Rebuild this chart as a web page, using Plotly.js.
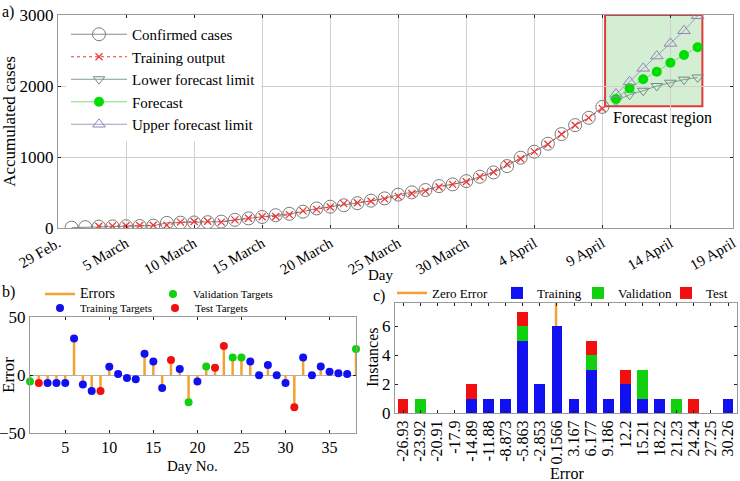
<!DOCTYPE html>
<html><head><meta charset="utf-8">
<script src="https://cdn.plot.ly/plotly-3.0.1.min.js"></script>
<style>html,body{margin:0;padding:0;background:#fff}#chart{width:740px;height:481px}</style>
</head><body><div id="chart"></div>
<script>
// ---------- panel a ----------
const dayTickValues = [0, 5, 10, 15, 20, 25, 30, 35, 40, 45, 49.6];
const dayTickLabels = ['29 Feb.', '5 March', '10 March', '15 March', '20 March', '25 March', '30 March', '4 April', '9 April', '14 April', '19 April'];
const confirmedDays = [1,2,3,4,5,6,7,8,9,10,11,12,13,14,15,16,17,18,19,20,21,22,23,24,25,26,27,28,29,30,31,32,33,34,35,36,37,38,39,40];
const confirmedCases = [5, 12, 20, 23, 25, 28, 33, 72, 75, 78, 82, 90, 115, 135, 155, 180, 200, 230, 275, 300, 320, 350, 385, 417, 470, 502, 535, 590, 614, 660, 722, 783, 872, 990, 1075, 1187, 1323, 1449, 1552, 1705];
const trainingDays = [3,4,5,6,7,8,9,10,11,12,13,14,15,16,17,18,19,20,21,22,23,24,25,26,27,28,29,30,31,32,33,34,35,36,37,38,39,40];
const trainingOutput = [25.7, 29.9, 31.9, 34.9, 39.9, 40.6, 83.2, 91.7, 95.7, 82.9, 114.1, 137.6, 158.7, 161.7, 188.3, 241.1, 262.1, 294.9, 343.4, 355.7, 377.6, 410.7, 445.1, 486.9, 519.9, 578.3, 614.3, 651.4, 722.3, 789.9, 899.7, 974.9, 1075.3, 1179.6, 1320.1, 1447.5, 1551.1, 1682.5];
const forecastDays = [41, 42, 43, 44, 45, 46, 47];
const forecastValues = [1816, 1967, 2094, 2201, 2328, 2436, 2545];
const lowerLimit = [1790, 1878, 1933, 2000, 2046, 2090, 2120];
const upperLimit = [1887, 2060, 2249, 2422, 2600, 2778, 2989];

// ---------- panel b ----------
const errorDays = [1,2,3,4,5,6,7,8,9,10,11,12,13,14,15,16,17,18,19,20,21,22,23,24,25,26,27,28,29,30,31,32,33,34,35,36,37,38];
const errorValues = [-5.7, -6.9, -6.9, -6.9, -6.9, 31.4, -8.2, -13.7, -13.7, 7.1, 0.9, -2.6, -3.7, 18.3, 11.7, -11.1, 12.9, 5.1, -23.4, -5.7, 7.4, 6.3, 24.9, 15.1, 15.1, 11.7, -0.3, 8.6, -0.3, -6.9, -27.7, 15.1, -0.3, 7.4, 2.9, 1.5, 0.9, 22.5];
const errorSet = ['val','test','train','train','train','train','train','train','test','train','train','train','train','train','train','train','test','train','val','train','val','test','test','val','val','train','train','train','train','train','test','train','train','train','train','train','train','val'];

// ---------- panel c ----------
const binLabels = ['-26.93','-23.92','-20.91','-17.9','-14.89','-11.88','-8.873','-5.863','-2.853','0.1566','3.167','6.177','9.186','12.2','15.21','18.22','21.23','24.24','27.25','30.26'];
const histTraining   = [0,0,0,0,1,1,1,5,2,6,1,3,1,2,1,1,0,0,0,1];
const histValidation = [0,1,0,0,0,0,0,1,0,0,0,1,0,0,2,0,1,0,0,0];
const histTest       = [1,0,0,0,1,0,0,1,0,0,0,1,0,1,0,0,0,1,0,0];
const zeroError = 0;

const serif = 'Liberation Serif, Times New Roman, serif';
const ORANGE = '#f2a133';
const BLUE = '#1010f0', GREEN = '#10d010', RED = '#f01010';

const traces = [];
// a
traces.push({type:'scatter', mode:'lines+markers', name:'Confirmed cases', x:confirmedDays, y:confirmedCases,
  xaxis:'x', yaxis:'y', legend:'legend', line:{color:'#8a8a8a', width:1},
  marker:{symbol:'circle-open', size:13, color:'#7a7a7a', line:{width:1}}});
traces.push({type:'scatter', mode:'lines+markers', name:'Training output', x:trainingDays, y:trainingOutput,
  xaxis:'x', yaxis:'y', legend:'legend', line:{color:'#e83a3a', width:1, dash:'dot'},
  marker:{symbol:'x-thin-open', size:7, color:'#e83a3a', line:{width:1.3, color:'#e83a3a'}}});
traces.push({type:'scatter', mode:'lines+markers', name:'Lower forecast limit', x:forecastDays, y:lowerLimit,
  xaxis:'x', yaxis:'y', legend:'legend', line:{color:'#7f9f8f', width:1},
  marker:{symbol:'triangle-down-open', size:10, color:'#6f8f7f', line:{width:1}}});
traces.push({type:'scatter', mode:'lines+markers', name:'Forecast', x:forecastDays, y:forecastValues,
  xaxis:'x', yaxis:'y', legend:'legend', line:{color:'#7edc7e', width:1},
  marker:{symbol:'circle', size:10, color:'#00dd00'}});
traces.push({type:'scatter', mode:'lines+markers', name:'Upper forecast limit', x:forecastDays, y:upperLimit,
  xaxis:'x', yaxis:'y', legend:'legend', line:{color:'#a898c4', width:1},
  marker:{symbol:'triangle-up-open', size:11, color:'#9484b8', line:{width:1}}});

// b
const stemX = [], stemY = [];
errorDays.forEach((d, i) => { stemX.push(d, d, null); stemY.push(0, errorValues[i], null); });
traces.push({type:'scatter', mode:'lines', name:'<span style="font-size:14px">Errors</span>', x:stemX, y:stemY,
  xaxis:'x2', yaxis:'y2', legend:'legend2', legendwidth:68, line:{color:ORANGE, width:2.5}, hoverinfo:'skip'});
function subset(kind) {
  const x = [], y = [];
  errorDays.forEach((d, i) => { if (errorSet[i] === kind) { x.push(d); y.push(errorValues[i]); } });
  return {x, y};
}
const sv = subset('val'), st = subset('train'), ss = subset('test');
traces.push({type:'scatter', mode:'markers', name:'Validation Targets', x:sv.x, y:sv.y, xaxis:'x2', yaxis:'y2',
  legend:'legend2', cliponaxis:false, marker:{size:8, color:GREEN}});
traces.push({type:'scatter', mode:'markers', name:'Training Targets', x:st.x, y:st.y, xaxis:'x2', yaxis:'y2',
  legend:'legend3', legendwidth:70, cliponaxis:false, marker:{size:8, color:BLUE}});
traces.push({type:'scatter', mode:'markers', name:'Test Targets', x:ss.x, y:ss.y, xaxis:'x2', yaxis:'y2',
  legend:'legend3', cliponaxis:false, marker:{size:8, color:RED}});

// c
const binCenters = binLabels.map(Number);
traces.push({type:'bar', name:'Training', x:binCenters, y:histTraining, width:1.9, xaxis:'x3', yaxis:'y3',
  legend:'legend4', legendwidth:36, marker:{color:BLUE, line:{width:0}}, legendrank:2});
traces.push({type:'bar', name:'Validation', x:binCenters, y:histValidation, width:1.9, xaxis:'x3', yaxis:'y3',
  legend:'legend4', legendwidth:43, marker:{color:GREEN, line:{width:0}}, legendrank:3});
traces.push({type:'bar', name:'Test', x:binCenters, y:histTest, width:1.9, xaxis:'x3', yaxis:'y3',
  legend:'legend4', marker:{color:RED, line:{width:0}}, legendrank:4});

const axisCommon = {showline:true, mirror:'ticks', linecolor:'#9a9a9a', linewidth:1, ticks:'inside', ticklen:3,
  tickcolor:'#222', zeroline:false, automargin:false, tickfont:{family:serif, size:17, color:'#000'}};

const rectX0 = forecastDays[0] - 0.8, rectX1 = forecastDays[forecastDays.length - 1] + 0.35;
const rectY0 = forecastValues[0] - 100, rectY1 = 3000;

const layout = {
  width:740, height:481, margin:{l:0, r:0, t:0, b:0}, paper_bgcolor:'#fff', plot_bgcolor:'#fff',
  font:{family:serif, color:'#000'}, showlegend:true, barmode:'stack', hovermode:false,
  xaxis: Object.assign({}, axisCommon, {domain:[58/740, 733/740], range:[0, 49.6], anchor:'y',
    tickvals:dayTickValues, ticktext:dayTickLabels, tickangle:-30, tickfont:{family:serif, size:15, color:'#000'},
    showgrid:true, gridcolor:'#d0d0d0'}),
  yaxis: Object.assign({}, axisCommon, {domain:[1-228/481, 1-15/481], range:[0, 3000], anchor:'x',
    tickvals:[0, 1000, 2000, 3000], showgrid:true, gridcolor:'#d0d0d0',
    title:{text:'Accumulated cases', font:{size:17}, standoff:4}}),
  xaxis2: Object.assign({}, axisCommon, {domain:[30/740, 356/740], range:[1, 38], anchor:'y2',
    tickvals:[5, 10, 15, 20, 25, 30, 35], showgrid:false, tickfont:{family:serif, size:16, color:'#000'}}),
  yaxis2: Object.assign({}, axisCommon, {domain:[1-433/481, 1-317/481], range:[-50, 50], anchor:'x2',
    tickvals:[-50, 0, 50], showgrid:false, zeroline:true, zerolinecolor:'#b0b0b0', zerolinewidth:1,
    tickfont:{family:serif, size:17, color:'#000'}}),
  xaxis3: Object.assign({}, axisCommon, {domain:[395/740, 737/740], range:[-28.34, 31.84], anchor:'y3',
    tickvals:binCenters, ticktext:binLabels, tickangle:-90, tickfont:{family:serif, size:16, color:'#000'},
    showgrid:false}),
  yaxis3: Object.assign({}, axisCommon, {domain:[1-413/481, 1-302.7/481], range:[0, 7.65], anchor:'x3',
    tickvals:[0, 2, 4, 6], showgrid:false}),
  legend: {x:66/740, y:1-18/481, xanchor:'left', yanchor:'top', bgcolor:'#fff', borderwidth:0,
    font:{family:serif, size:15}, itemwidth:56, tracegroupgap:0},
  legend2: {orientation:'h', x:40/740, y:1-294/481, xanchor:'left', yanchor:'middle', bgcolor:'rgba(0,0,0,0)',
    font:{family:serif, size:11}},
  legend3: {orientation:'h', x:40/740, y:1-308/481, xanchor:'left', yanchor:'middle', bgcolor:'rgba(0,0,0,0)',
    font:{family:serif, size:11}},
  legend4: {orientation:'h', x:392/740, y:1-293/481, xanchor:'left', yanchor:'middle', bgcolor:'rgba(0,0,0,0)',
    font:{family:serif, size:13}, traceorder:'normal'},
  shapes: [
    {type:'rect', xref:'x', yref:'y', x0:rectX0, x1:rectX1, y0:rectY0, y1:rectY1, layer:'below',
      fillcolor:'#d3eed3', line:{color:'#e03a3a', width:2}},
    {type:'line', xref:'x3', yref:'y3 domain', x0:zeroError, x1:zeroError, y0:0, y1:1, layer:'below',
      line:{color:ORANGE, width:2.5}, showlegend:true, name:'Zero Error', legend:'legend4', legendrank:1, legendwidth:60}
  ],
  annotations: [
    {text:'a)', xref:'paper', yref:'paper', x:0, y:1-12/481, xanchor:'left', yanchor:'middle', showarrow:false, font:{size:16}},
    {text:'b)', xref:'paper', yref:'paper', x:0, y:1-292/481, xanchor:'left', yanchor:'middle', showarrow:false, font:{size:16}},
    {text:'c)', xref:'paper', yref:'paper', x:371/740, y:1-296/481, xanchor:'left', yanchor:'middle', showarrow:false, font:{size:16}},
    {text:'Day', xref:'paper', yref:'paper', x:380/740, y:1-275/481, xanchor:'center', yanchor:'middle', showarrow:false, font:{size:15}},
    {text:'Day No.', xref:'paper', yref:'paper', x:192/740, y:1-466/481, xanchor:'center', yanchor:'middle', showarrow:false, font:{size:15}},
    {text:'Error', xref:'paper', yref:'paper', x:567/740, y:1-473/481, xanchor:'center', yanchor:'middle', showarrow:false, font:{size:16}},
    {text:'Forecast region', xref:'x', yref:'y', x:rectX0 + 0.4, y:rectY0, xanchor:'left', yanchor:'top', yshift:-1,
      showarrow:false, font:{size:16}},
    {text:'Error', xref:'paper', yref:'paper', x:8/740, y:1-375/481, xanchor:'center', yanchor:'middle', textangle:-90,
      showarrow:false, font:{size:17}},
    {text:'Instances', xref:'paper', yref:'paper', x:372/740, y:1-357/481, xanchor:'center', yanchor:'middle', textangle:-90,
      showarrow:false, font:{size:16}}
  ]
};

Plotly.newPlot('chart', traces, layout, {staticPlot:true, displayModeBar:false});
</script>
</body></html>
